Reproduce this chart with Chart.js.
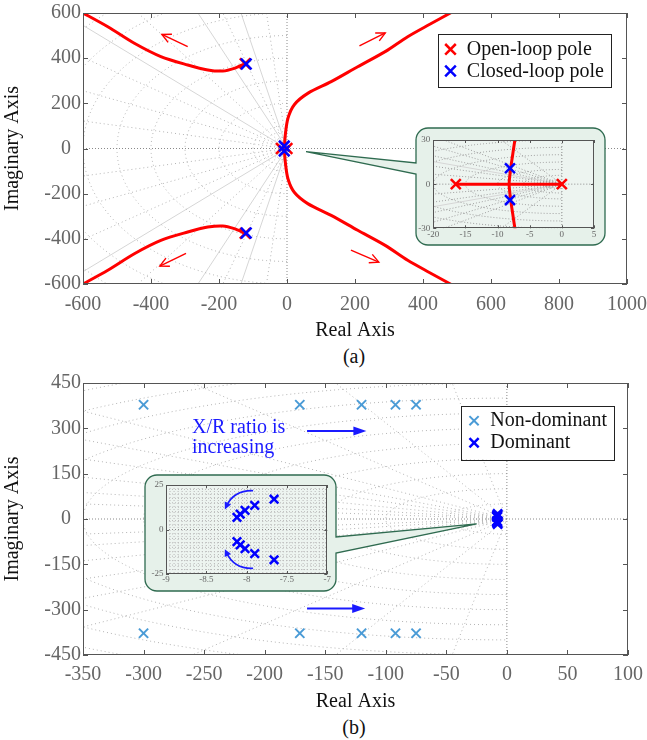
<!DOCTYPE html>
<html>
<head>
<meta charset="utf-8">
<script src="https://cdn.jsdelivr.net/npm/chart.js@4.4.1/dist/chart.umd.min.js"></script>
<style>
  body { margin: 0; background: #fff; }
  #wrap { position: relative; width: 647px; height: 740px; }
  .pane { position: absolute; }
  .cap { position: absolute; width: 100px; text-align: center; font: 20px "Liberation Serif", serif; line-height: 20px; color: #111; }
</style>
</head>
<body>
<div id="wrap">
  <div class="pane" style="left:0;top:0"><canvas id="chartA" width="647" height="345"></canvas></div>
  <div class="pane" id="paneInsetA"><canvas id="insetA"></canvas></div>
  <div class="cap" style="left:304px;top:346px">(a)</div>
  <div class="pane" style="left:0;top:370px"><canvas id="chartB" width="647" height="345"></canvas></div>
  <div class="pane" id="paneInsetB"><canvas id="insetB"></canvas></div>
  <div class="cap" style="left:304px;top:717px">(b)</div>
</div>
<script>
const FONT = '"Liberation Serif", "Times New Roman", serif';

/* ---------- (a) root locus ---------- */
const locusUpLeft  = [[-123, 376], [-155, 355], [-189, 343], [-233, 348], [-292, 370], [-371, 407], [-449, 466], [-527, 539], [-610, 608]];
const locusLowLeft = [[-123, -376], [-155, -355], [-189, -343], [-233, -348], [-292, -370], [-371, -407], [-449, -466], [-527, -539], [-610, -608]];
const locusUpRight = [[-8, 0], [-5, 60], [3, 135], [22, 195], [61, 244], [130, 296], [208, 362], [290, 430], [355, 495], [420, 550], [490, 608]];
const locusLowRight = [[-8, 0], [-5, -60], [3, -135], [22, -195], [61, -244], [130, -296], [208, -362], [290, -430], [355, -495], [420, -550], [490, -608]];
const locusRealSeg = [[-16.5, 0], [0, 0]];
const locusBreak = [[-7.0, 36], [-7.3, 30], [-7.65, 20], [-7.95, 11], [-8.2, 0], [-7.95, -11], [-7.65, -20], [-7.3, -30], [-7.0, -36]];
const openX = [-16.5, 0, -123, -123];
const openY = [0, 0, 376, -376];
const closedX = [-8.07, -8.07, -120, -120];
const closedY = [10.8, -10.8, 374, -374];
const arrowsA = [[-292, 451, -368, 505], [-297, -464, -374, -521], [213, 454, 289, 512], [188, -450, 270, -503]];

/* ---------- (b) poles vs X/R ratio ---------- */
const nonDomX = [-300, -171, -120, -92, -75, -300, -171, -120, -92, -75];
const nonDomY = [378, 378, 378, 378, 378, -378, -378, -378, -378, -378];
const domX = [-7.66, -7.9, -8.02, -8.08, -8.12, -7.66, -7.9, -8.02, -8.08, -8.12];
const domY = [17, 13.6, 10.8, 8.6, 6.8, -17, -13.6, -10.8, -8.6, -6.8];
const arrowsB = [[-165, 291, -116, 291], [-165, -296, -117, -296]];
const curvesB = [[-7.92, 21.8, -8.155, 22.2, -8.27, 11.3], [-7.92, -21.8, -8.155, -22.2, -8.27, -11.1]];

// layout of the two zoom boxes (page pixels)
const boxA = { l: 416, t: 128, r: 605, b: 245 };
const boxB = { l: 145, t: 475, r: 336, b: 591 };
const topB = 370;

function xy(xs, ys) { return xs.map((v, i) => ({ x: v, y: ys[i] })); }
function pts(a) { return a.map(p => ({ x: p[0], y: p[1] })); }

function crossAt(ctx, x, y, r, color, lw) {
  const d = r * Math.SQRT1_2;
  ctx.strokeStyle = color; ctx.lineWidth = lw; ctx.setLineDash([]);
  ctx.beginPath();
  ctx.moveTo(x - d, y - d); ctx.lineTo(x + d, y + d);
  ctx.moveTo(x - d, y + d); ctx.lineTo(x + d, y - d);
  ctx.stroke();
}

function arrowHead(ctx, x, y, ang, len, half, filled) {
  const bx = x - len * Math.cos(ang), by = y - len * Math.sin(ang);
  const nx = -Math.sin(ang) * half, ny = Math.cos(ang) * half;
  ctx.beginPath();
  ctx.moveTo(bx + nx, by + ny); ctx.lineTo(x, y); ctx.lineTo(bx - nx, by - ny);
  if (filled) { ctx.closePath(); ctx.fill(); } else ctx.stroke();
}

function bubble(ctx, b, tip) {
  const rad = 12;
  ctx.beginPath();
  ctx.moveTo(b.l + rad, b.t);
  ctx.lineTo(b.r - rad, b.t); ctx.arcTo(b.r, b.t, b.r, b.t + rad, rad);
  if (tip.side === 'right') { ctx.lineTo(b.r, tip.y0); ctx.lineTo(tip.px, tip.py); ctx.lineTo(b.r, tip.y1); }
  ctx.lineTo(b.r, b.b - rad); ctx.arcTo(b.r, b.b, b.r - rad, b.b, rad);
  ctx.lineTo(b.l + rad, b.b); ctx.arcTo(b.l, b.b, b.l, b.b - rad, rad);
  if (tip.side === 'left') { ctx.lineTo(b.l, tip.y1); ctx.lineTo(tip.px, tip.py); ctx.lineTo(b.l, tip.y0); }
  ctx.lineTo(b.l, b.t + rad); ctx.arcTo(b.l, b.t, b.l + rad, b.t, rad);
  ctx.closePath();
  ctx.fillStyle = '#e6f1ea'; ctx.fill();
  ctx.strokeStyle = '#2f6b50'; ctx.lineWidth = 1.3; ctx.setLineDash([]); ctx.stroke();
}

// per-chart decorations (grid, arrows, call-out, frame, legend)
const decorCfg = {
  chartA: {
    radii: [15, 30, 50, 75, 100, 200, 300, 400, 500, 600, 700, 800, 900],
    zetas: [0.1, 0.3, 0.59, 0.83, 0.92, 0.98],
    solid: [0.22, 0.4, 0.74],
    dot: { color: '#b4b4b4', dash: [1, 3] },
    arrows: arrowsA, arrowStyle: { color: '#ff0000', lw: 1.4, len: 9, half: 4.5, filled: false },
    callout: { box: boxA, side: 'left', y0: 163, y1: 174, at: [56, -14], top: 0 },
    tickLen: 5,
    legend: { items: [1, 0], right: 16, top: 21.3, rowH: 21.7 }
  },
  insetA: {
    bg: '#edf4f0',
    radii: [1, 3, 6, 10, 15, 20, 25, 30, 40],
    zetas: [0.3, 0.55, 0.75, 0.87, 0.95, 0.985],
    solid: [0.92],
    dot: { color: '#a0a0a0', dash: [1, 2] },
    tickLen: 3
  },
  chartB: {
    radii: [10, 25, 50, 100, 150, 200, 250, 300, 350, 400, 450, 500, 550],
    zetas: [0.1, 0.3, 0.5, 0.7, 0.8, 0.87, 0.93, 0.97, 0.99],
    dot: { color: '#b4b4b4', dash: [1, 3] },
    arrows: arrowsB, arrowStyle: { color: '#1a1aff', lw: 2, len: 13, half: 4.5, filled: true },
    note: { x: -260, y: 284, lines: ['X/R ratio is', 'increasing'], color: '#1a1aff', size: 20, gap: 20 },
    callout: { box: boxB, side: 'right', y0: 537, y1: 553, at: [-25, -16], top: topB },
    tickLen: 5,
    legend: { items: [0, 1], right: 14, top: 22.7, rowH: 22 }
  },
  insetB: {
    bg: '#edf4f0',
    rect: { dx: 0.05, dy: 2.5 },
    dot: { color: '#b8b8b8', dash: [1, 2] },
    curves: curvesB,
    tickLen: 3
  }
};

const decor = {
  id: 'decor',
  beforeDatasetsDraw(chart) {
    const o = decorCfg[chart.canvas.id];
    const { ctx, chartArea: a, scales: { x, y } } = chart;
    const P = (vx, vy) => [x.getPixelForValue(vx), y.getPixelForValue(vy)];
    const seg = (p, q) => { ctx.beginPath(); ctx.moveTo(p[0], p[1]); ctx.lineTo(q[0], q[1]); ctx.stroke(); };
    ctx.save();
    ctx.beginPath(); ctx.rect(a.left, a.top, a.right - a.left, a.bottom - a.top); ctx.clip();
    if (o.bg) { ctx.fillStyle = o.bg; ctx.fillRect(a.left, a.top, a.right - a.left, a.bottom - a.top); }
    ctx.lineWidth = 1;
    if (o.solid) {
      ctx.strokeStyle = '#d6d6d6'; ctx.setLineDash([]);
      o.solid.forEach(z => {
        const s = Math.sqrt(1 - z * z);
        seg(P(0, 0), P(-1e4 * z, 1e4 * s)); seg(P(0, 0), P(-1e4 * z, -1e4 * s));
      });
    }
    ctx.strokeStyle = o.dot.color; ctx.setLineDash(o.dot.dash);
    (o.radii || []).forEach(r => {
      ctx.beginPath();
      for (let k = 0; k <= 180; k++) {
        const t = Math.PI / 2 + Math.PI * k / 180;
        const p = P(r * Math.cos(t), r * Math.sin(t));
        if (k) ctx.lineTo(p[0], p[1]); else ctx.moveTo(p[0], p[1]);
      }
      ctx.stroke();
    });
    (o.zetas || []).forEach(z => {
      const s = Math.sqrt(1 - z * z);
      seg(P(0, 0), P(-1e4 * z, 1e4 * s)); seg(P(0, 0), P(-1e4 * z, -1e4 * s));
    });
    if (o.rect) {
      const nx = Math.round((x.max - x.min) / o.rect.dx), ny = Math.round((y.max - y.min) / o.rect.dy);
      for (let k = 1; k < nx; k++) { const px = x.getPixelForValue(x.min + k * o.rect.dx); seg([px, a.top], [px, a.bottom]); }
      for (let k = 1; k < ny; k++) { const py = y.getPixelForValue(y.min + k * o.rect.dy); seg([a.left, py], [a.right, py]); }
    }
    ctx.strokeStyle = '#8a8a8a'; ctx.setLineDash([1, 2]);
    const x0 = x.getPixelForValue(0), y0 = y.getPixelForValue(0);
    seg([x0, a.top], [x0, a.bottom]);
    seg([a.left, y0], [a.right, y0]);
    ctx.restore();
  },
  afterDatasetsDraw(chart) {
    const o = decorCfg[chart.canvas.id];
    const { ctx, chartArea: a, scales: { x, y } } = chart;
    ctx.save();
    ctx.setLineDash([]);
    if (o.arrows) {
      const st = o.arrowStyle;
      ctx.strokeStyle = st.color; ctx.fillStyle = st.color; ctx.lineWidth = st.lw;
      o.arrows.forEach(([ax, ay, bx, by]) => {
        const p = [x.getPixelForValue(ax), y.getPixelForValue(ay)];
        const q = [x.getPixelForValue(bx), y.getPixelForValue(by)];
        const ang = Math.atan2(q[1] - p[1], q[0] - p[0]);
        const cut = st.filled ? st.len * 0.8 : 0;
        ctx.beginPath(); ctx.moveTo(p[0], p[1]);
        ctx.lineTo(q[0] - cut * Math.cos(ang), q[1] - cut * Math.sin(ang)); ctx.stroke();
        arrowHead(ctx, q[0], q[1], ang, st.len, st.half, st.filled);
      });
    }
    if (o.curves) {
      ctx.strokeStyle = '#1a1aff'; ctx.fillStyle = '#1a1aff'; ctx.lineWidth = 1.6;
      o.curves.forEach(c => {
        const s = [x.getPixelForValue(c[0]), y.getPixelForValue(c[1])];
        const m = [x.getPixelForValue(c[2]), y.getPixelForValue(c[3])];
        const e = [x.getPixelForValue(c[4]), y.getPixelForValue(c[5])];
        const ang = Math.atan2(e[1] - m[1], e[0] - m[0]);
        const ee = [e[0] - 4 * Math.cos(ang), e[1] - 4 * Math.sin(ang)];
        ctx.beginPath(); ctx.moveTo(s[0], s[1]); ctx.quadraticCurveTo(m[0], m[1], ee[0], ee[1]); ctx.stroke();
        arrowHead(ctx, e[0], e[1], ang, 7, 3.5, true);
      });
    }
    if (o.note) {
      const n = o.note;
      ctx.fillStyle = n.color; ctx.font = n.size + 'px ' + FONT; ctx.textBaseline = 'alphabetic'; ctx.textAlign = 'left';
      const px = x.getPixelForValue(n.x), py = y.getPixelForValue(n.y);
      n.lines.forEach((t, i) => ctx.fillText(t, px, py + i * n.gap));
    }
    if (o.callout) {
      const c = o.callout, off = c.top;
      bubble(ctx, { l: c.box.l, t: c.box.t - off, r: c.box.r, b: c.box.b - off },
        { side: c.side, y0: c.y0 - off, y1: c.y1 - off, px: x.getPixelForValue(c.at[0]), py: y.getPixelForValue(c.at[1]) });
    }
    // frame with inward ticks on all four sides
    const L = o.tickLen;
    ctx.strokeStyle = '#555'; ctx.lineWidth = 1;
    ctx.strokeRect(Math.round(a.left) + 0.5, Math.round(a.top) + 0.5, Math.round(a.right - a.left) - 1, Math.round(a.bottom - a.top) - 1);
    ctx.beginPath();
    x.ticks.forEach(t => {
      const px = Math.round(x.getPixelForValue(t.value)) + 0.5;
      ctx.moveTo(px, a.bottom); ctx.lineTo(px, a.bottom - L);
      ctx.moveTo(px, a.top); ctx.lineTo(px, a.top + L);
    });
    y.ticks.forEach(t => {
      const py = Math.round(y.getPixelForValue(t.value)) + 0.5;
      ctx.moveTo(a.left, py); ctx.lineTo(a.left + L, py);
      ctx.moveTo(a.right, py); ctx.lineTo(a.right - L, py);
    });
    ctx.stroke();
    if (o.legend) {
      const lg = o.legend;
      const items = lg.items.map(i => chart.data.datasets[i]);
      ctx.font = '20px ' + FONT;
      const w = 29 + Math.max(...items.map(d => ctx.measureText(d.label).width)) + 7;
      const h = 31.5 + lg.rowH * (items.length - 1);
      const r = a.right - lg.right, l = r - w, t = a.top + lg.top;
      ctx.fillStyle = '#fff'; ctx.fillRect(l, t, w, h);
      ctx.strokeStyle = '#222'; ctx.lineWidth = 1; ctx.strokeRect(Math.round(l) + 0.5, Math.round(t) + 0.5, Math.round(w), Math.round(h));
      items.forEach((d, k) => {
        const cy = t + 15 + k * lg.rowH;
        crossAt(ctx, l + 12.7, cy, d.pointRadius, d.pointBorderColor, d.pointBorderWidth);
        ctx.fillStyle = '#111'; ctx.textBaseline = 'middle'; ctx.textAlign = 'left';
        ctx.fillText(d.label, l + 29, cy + 0.5);
      });
    }
    ctx.restore();
  }
};
Chart.register(decor);

function axes(c) {
  const tickFont = { family: FONT, size: c.fs };
  return {
    x: {
      type: 'linear', min: c.x[0], max: c.x[1],
      ticks: { stepSize: c.x[2], font: tickFont, color: '#666', padding: c.xpad, maxRotation: 0, autoSkip: false,
        callback: v => String(v) },
      grid: { display: false, drawTicks: false }, border: { display: false },
      title: { display: !!c.xtitle, text: c.xtitle || '', color: '#111', font: { family: FONT, size: 20 },
        padding: { top: 0, bottom: c.tpad || 0 } },
      afterFit: s => { s.height = c.xh; s.paddingLeft = 0; s.paddingRight = 0; }
    },
    y: {
      type: 'linear', min: c.y[0], max: c.y[1],
      ticks: { stepSize: c.y[2], font: tickFont, color: '#666', padding: c.ypad, autoSkip: false,
        callback: v => (c.zeroShift && v === 0) ? '0\u2002' : String(v) },
      grid: { display: false, drawTicks: false }, border: { display: false },
      title: { display: !!c.ytitle, text: c.ytitle || '', color: '#111', font: { family: FONT, size: 20 },
        padding: { top: 1, bottom: 0 } },
      afterFit: s => { s.width = c.yw; s.paddingTop = 0; s.paddingBottom = 0; }
    }
  };
}

function baseOptions(c, pad) {
  return {
    responsive: false, animation: false, events: [],
    layout: { padding: pad },
    plugins: { legend: { display: false }, tooltip: { enabled: false } },
    scales: axes(c)
  };
}

function marks(label, xs, ys, color, r, lw) {
  return { label, data: xy(xs, ys), showLine: false, pointStyle: 'crossRot', pointRadius: r,
    pointBorderColor: color, pointBackgroundColor: color, pointBorderWidth: lw, borderColor: color };
}
function locus(arr, lw) {
  return { data: pts(arr), showLine: true, borderColor: '#ff0000', borderWidth: lw, pointRadius: 0, tension: 0.3 };
}

// ---- chart (a)
new Chart(document.getElementById('chartA'), {
  type: 'scatter',
  data: { datasets: [
    marks('Closed-loop pole', closedX, closedY, '#0000ff', 7.5, 2.5),
    marks('Open-loop pole', openX, openY, '#ff0000', 7.5, 2.5),
    locus(locusUpLeft, 3), locus(locusLowLeft, 3), locus(locusUpRight, 3), locus(locusLowRight, 3), locus(locusRealSeg, 3)
  ]},
  options: baseOptions({ x: [-600, 1000, 200], y: [-600, 600, 200], fs: 20, xpad: 9, ypad: 2, xh: 61, yw: 83, tpad: 2.5,
    xtitle: 'Real Axis', ytitle: 'Imaginary Axis', zeroShift: true }, { top: 13, right: 20, left: 0, bottom: 0 })
});

// ---- zoom box of (a)
function placeInset(id, pane, b) {
  const el = document.getElementById(pane);
  el.style.left = b.l + 'px'; el.style.top = b.t + 'px';
  const cv = document.getElementById(id);
  cv.width = b.r - b.l; cv.height = b.b - b.t;
  return cv;
}
new Chart(placeInset('insetA', 'paneInsetA', boxA), {
  type: 'scatter',
  data: { datasets: [
    marks('Closed-loop pole', closedX, closedY, '#0000ff', 7, 2.5),
    marks('Open-loop pole', openX, openY, '#ff0000', 7, 2.5),
    locus(locusRealSeg, 3), locus(locusBreak, 3)
  ]},
  options: baseOptions({ x: [-20, 5, 5], y: [-30, 30, 30], fs: 9, xpad: 1, ypad: 3, xh: 16.7, yw: 17.3 },
    { top: 12, right: 11, left: 0, bottom: 0 })
});

// ---- chart (b)
new Chart(document.getElementById('chartB'), {
  type: 'scatter',
  data: { datasets: [
    marks('Non-dominant', nonDomX, nonDomY, '#4a9bd6', 6.5, 2),
    marks('Dominant', domX, domY, '#0000ff', 6.5, 2.5)
  ]},
  options: baseOptions({ x: [-350, 100, 50], y: [-450, 450, 150], fs: 20, xpad: 8, ypad: 2, xh: 60, yw: 83, tpad: 1,
    xtitle: 'Real Axis', ytitle: 'Imaginary Axis', zeroShift: true }, { top: 13, right: 19, left: 0, bottom: 0 })
});

// ---- zoom box of (b)
new Chart(placeInset('insetB', 'paneInsetB', boxB), {
  type: 'scatter',
  data: { datasets: [
    marks('Dominant', domX, domY, '#0000ff', 6, 2.5)
  ]},
  options: baseOptions({ x: [-9, -7, 0.5], y: [-25, 25, 25], fs: 9, xpad: 0, ypad: 2.5, xh: 17, yw: 21 },
    { top: 10, right: 8.7, left: 0, bottom: 0 })
});
</script>
</body>
</html>
